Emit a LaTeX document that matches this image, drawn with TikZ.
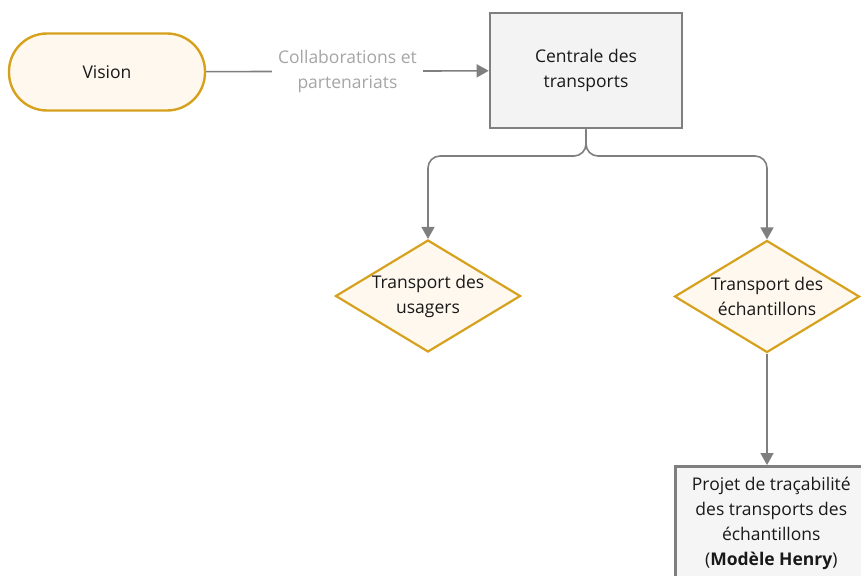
\documentclass[tikz,border=0pt]{standalone}
\usepackage{fontspec}
\setmainfont{Open Sans}
\usetikzlibrary{shapes.geometric,arrows.meta}

\definecolor{gold}{HTML}{D6A21E}
\definecolor{cream}{HTML}{FFF8EE}
\definecolor{boxgray}{HTML}{7F7F7F}
\definecolor{boxfill}{HTML}{F3F3F3}
\definecolor{labelgray}{HTML}{A6A6A6}

\begin{document}
\begin{tikzpicture}[x=1pt, y=-1pt,
  every node/.style={font=\fontsize{17.5}{25}\selectfont, align=center, text=black!90},
  visionbox/.style={draw=gold, fill=cream, line width=2.4pt, rectangle, rounded corners=38pt, minimum width=196pt, minimum height=77pt},
  grisbox/.style={draw=boxgray, fill=boxfill, line width=2.6pt, rectangle, minimum width=192pt, minimum height=115pt},
  choix/.style={draw=gold, fill=cream, line width=2.2pt, diamond, aspect=1.65, inner sep=0pt, minimum width=185pt, minimum height=112pt},
  conn/.style={draw=boxgray, line width=1.6pt, -{Triangle[length=12pt,width=13pt]}}]

\useasboundingbox (0,0) rectangle (861,575);

\node[visionbox] (vision) at (107,72) {Vision};
\node[grisbox] (centrale) at (586,70.5) {Centrale des\\transports};
\node[choix] (usagers) at (428,296) {};
\node (usagers-t) at (usagers) {Transport des\\usagers};
\node[choix] (echant) at (767,296.5) {};
\node (echant-t) at (echant) {Transport des\\échantillons};
\node[grisbox, fill=white!96!black, anchor=north west] (henry) at (674,465) {Projet de traçabilité\\des transports des\\échantillons\\(\textbf{Modèle Henry})};

\coordinate (fork) at (586,156);

\draw[conn] (vision) -- node[fill=white, text=labelgray, inner xsep=6pt] (collab) {Collaborations et\\partenariats} (centrale);
\draw[conn, rounded corners=12pt] (centrale.south) -- (fork) -| (usagers.north);
\draw[conn, rounded corners=12pt] (centrale.south) -- (fork) -| (echant.north);
\draw[conn] (echant.south) -- (henry.north -| echant.south);

\end{tikzpicture}
\end{document}
